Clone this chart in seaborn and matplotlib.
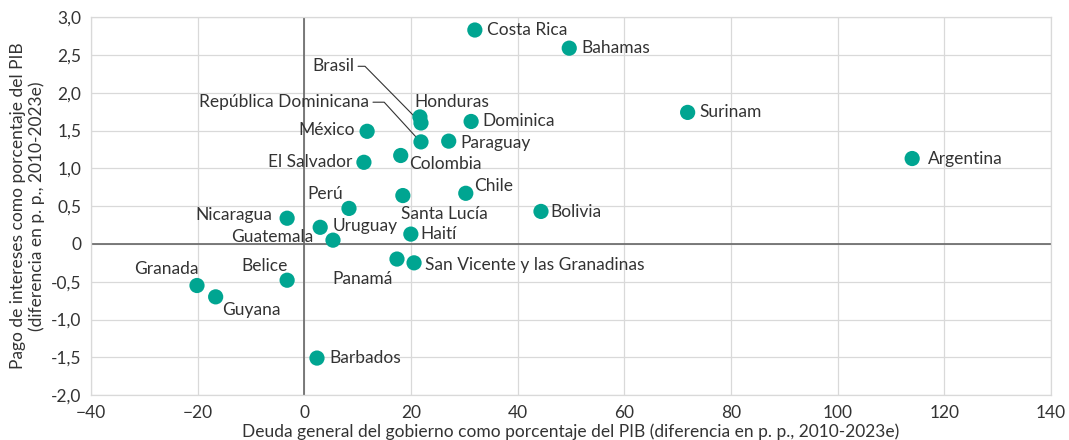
import pandas as pd
import matplotlib.pyplot as plt
import seaborn as sns
from matplotlib.ticker import FuncFormatter

# Data
countries = ["Costa Rica", "Bahamas", "Surinam", "Argentina", "Honduras", "Brasil",
             "Dominica", "México", "República Dominicana", "Paraguay", "Colombia",
             "El Salvador", "Chile", "Perú", "Santa Lucía", "Bolivia", "Nicaragua",
             "Uruguay", "Guatemala", "Haití", "Panamá", "San Vicente y las Granadinas",
             "Belice", "Granada", "Guyana", "Barbados"]
debt = [32.0, 49.7, 71.9, 114.0, 21.7, 21.9, 31.3, 11.8, 21.9, 27.1, 18.1,
        11.2, 30.3, 8.4, 18.5, 44.4, -3.2, 3.0, 5.4, 20.0, 17.4, 20.6,
        -3.2, -20.1, -16.6, 2.4]
interest = [2.83, 2.59, 1.74, 1.13, 1.68, 1.60, 1.62, 1.49, 1.35, 1.36, 1.17,
            1.08, 0.67, 0.47, 0.64, 0.43, 0.34, 0.22, 0.05, 0.13, -0.20, -0.25,
            -0.48, -0.55, -0.70, -1.51]

df = pd.DataFrame({"pais": countries, "deuda": debt, "intereses": interest})

# label placement: offset in pixels (dx, dy) and horizontal alignment
label_pos = {
    "Costa Rica": (12, 0, "left"), "Bahamas": (12, 0, "left"),
    "Surinam": (12, 0, "left"), "Argentina": (16, 0, "left"),
    "Honduras": (-6, 15, "left"), "Dominica": (11, 0, "left"),
    "México": (-12, 1, "right"), "Paraguay": (12, -2, "left"),
    "Colombia": (8, -9, "left"), "El Salvador": (-12, 0, "right"),
    "Chile": (8, 7, "left"), "Perú": (-6, 14, "right"),
    "Santa Lucía": (-2, -18, "left"), "Bolivia": (9, -1, "left"),
    "Nicaragua": (-15, 3, "right"), "Uruguay": (12, 1, "left"),
    "Guatemala": (-20, 3, "right"), "Haití": (10, 0, "left"),
    "Panamá": (-34, -20, "center"), "San Vicente y las Granadinas": (11, -2, "left"),
    "Belice": (1, 14, "right"), "Granada": (2, 17, "right"),
    "Guyana": (6, -13, "left"), "Barbados": (12, 0, "left"),
}
# labels with leader lines: text anchor and bend point, in data coords
leader = {"Brasil": ((9.4, 2.35), (11.4, 2.35)),
          "República Dominicana": ((12.2, 1.875), (15.0, 1.875))}

sns.set_theme(style="whitegrid")
plt.rcParams["font.family"] = ["Lato", "DejaVu Sans"]
teal = "#00A591"
txt = "#333333"

fig, ax = plt.subplots(figsize=(10.69, 4.4), dpi=100)
fig.subplots_adjust(left=0.085, right=0.983, top=0.961, bottom=0.102)

sns.scatterplot(data=df, x="deuda", y="intereses", ax=ax, color=teal, s=120,
                edgecolor="none", zorder=3)

for name, x, y in zip(countries, debt, interest):
    if name in leader:
        (tx, ty), (bx, by) = leader[name]
        ax.text(tx, ty, name, ha="right", va="center", fontsize=12.5, color=txt)
        ax.plot([tx + 0.7, bx, x - 1.0], [ty, by, y + 0.07], color=txt, lw=0.8, zorder=2)
    else:
        dx, dy, ha = label_pos[name]
        ax.annotate(name, xy=(x, y), xytext=(dx, dy), textcoords="offset pixels",
                    ha=ha, va="center", fontsize=12.5, color=txt)

ax.axhline(0, color="#666666", lw=1.2, zorder=1)
ax.axvline(0, color="#666666", lw=1.2, zorder=1)

ax.set_xlim(-40, 140)
ax.set_ylim(-2.0, 3.0)
ax.set_xticks(range(-40, 141, 20))
ax.set_yticks([-2.0, -1.5, -1.0, -0.5, 0, 0.5, 1.0, 1.5, 2.0, 2.5, 3.0])
ax.yaxis.set_major_formatter(FuncFormatter(
    lambda v, p: "0" if abs(v) < 1e-9 else f"{v:.1f}".replace(".", ",")))
ax.grid(True, color="#d9d9d9", lw=0.9)
for sp in ax.spines.values():
    sp.set_color("#d9d9d9")
    sp.set_linewidth(0.9)
ax.tick_params(labelsize=12.5, colors=txt, pad=1)

ax.set_xlabel("Deuda general del gobierno como porcentaje del PIB (diferencia en p. p., 2010-2023e)",
              fontsize=12.5, color=txt, labelpad=2)
ax.set_ylabel("Pago de intereses como porcentaje del PIB\n(diferencia en p. p., 2010-2023e)",
              fontsize=12.5, color=txt, labelpad=4)

plt.savefig("out.png", dpi=100)
